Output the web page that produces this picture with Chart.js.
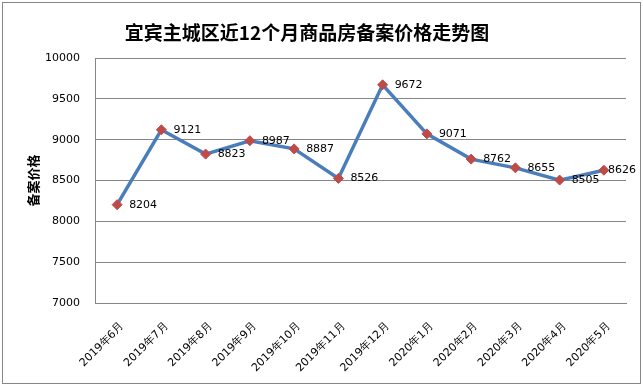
<!DOCTYPE html>
<html>
<head>
<meta charset="utf-8">
<script src="https://cdn.jsdelivr.net/npm/chart.js@4"></script>
<style>
  html, body { margin: 0; padding: 0; background: #fff; }
  #wrap { position: relative; width: 643px; height: 386px; }
</style>
</head>
<body>
<div id="wrap"><canvas id="priceChart" width="643" height="386"></canvas></div>
<script>
const chartTitle = '宜宾主城区近12个月商品房备案价格走势图';
const months = ['2019年6月', '2019年7月', '2019年8月', '2019年9月', '2019年10月', '2019年11月',
  '2019年12月', '2020年1月', '2020年2月', '2020年3月', '2020年4月', '2020年5月'];
const prices = [8204, 9121, 8823, 8987, 8887, 8526, 9672, 9071, 8762, 8655, 8505, 8626];
const yTicks = [7000, 7500, 8000, 8500, 9000, 9500, 10000];

const tickFont = { family: 'DejaVu Sans', size: 11 };

// outer frame + title like the exported excel chart
const framePlugin = {
  id: 'frame',
  beforeDraw(chart) {
    const ctx = chart.ctx;
    ctx.save();
    ctx.fillStyle = '#fff';
    ctx.fillRect(0, 0, chart.width, chart.height);
    ctx.strokeStyle = '#868686';
    ctx.lineWidth = 1;
    ctx.strokeRect(2.5, 2.5, chart.width - 5, chart.height - 5);
    ctx.fillStyle = '#000';
    ctx.font = 'bold 19px "Noto Sans CJK SC"';
    ctx.textAlign = 'center';
    ctx.textBaseline = 'middle';
    ctx.fillText(chartTitle, 307, 33);
    ctx.restore();
  }
};

// value labels to the right of each point
const valueLabels = {
  id: 'valueLabels',
  afterDatasetsDraw(chart) {
    const ctx = chart.ctx;
    const meta = chart.getDatasetMeta(0);
    ctx.save();
    ctx.font = '11px "DejaVu Sans"';
    ctx.fillStyle = '#000';
    ctx.textBaseline = 'middle';
    meta.data.forEach((pt, i) => {
      const txt = String(prices[i]);
      const w = ctx.measureText(txt).width;
      let x = pt.x + 12;
      if (x + w > chart.width - 7) x = chart.width - 7 - w;
      ctx.fillText(txt, x, pt.y);
    });
    ctx.restore();
  }
};

new Chart(document.getElementById('priceChart'), {
  type: 'line',
  data: {
    labels: months,
    datasets: [{
      data: prices,
      borderColor: '#4A7EBB',
      borderWidth: 3.5,
      tension: 0,
      pointStyle: 'rectRot',
      pointRadius: 5,
      pointBackgroundColor: '#BE4B48',
      pointBorderColor: '#BE4B48',
      pointBorderWidth: 1
    }]
  },
  options: {
    responsive: false,
    animation: false,
    devicePixelRatio: 1,
    layout: { padding: { top: 58, right: 17, left: 0, bottom: 0 } },
    plugins: {
      legend: { display: false },
      tooltip: { enabled: false },
      title: { display: false }
    },
    scales: {
      x: {
        offset: true,
        grid: { display: false, drawTicks: false },
        border: { color: '#868686', width: 1 },
        ticks: {
          color: '#000',
          font: tickFont,
          maxRotation: 45,
          minRotation: 45,
          padding: 17,
          labelOffset: 5,
          autoSkip: false
        },
        afterFit(scale) { scale.height = 83; }
      },
      y: {
        min: 7000,
        max: 10000,
        afterBuildTicks(scale) { scale.ticks = yTicks.map(v => ({ value: v })); },
        grid: { color: '#868686', drawTicks: false },
        border: { color: '#868686', width: 1 },
        ticks: { color: '#000', font: tickFont, padding: 15, callback: v => String(v) },
        title: {
          display: true,
          text: '备案价格',
          color: '#000',
          font: { family: 'Noto Sans CJK SC', size: 13, weight: 'bold', lineHeight: 1.2 },
          padding: { top: 25 }
        },
        afterFit(scale) { scale.width = 95; }
      }
    }
  },
  plugins: [framePlugin, valueLabels]
});
</script>
</body>
</html>
